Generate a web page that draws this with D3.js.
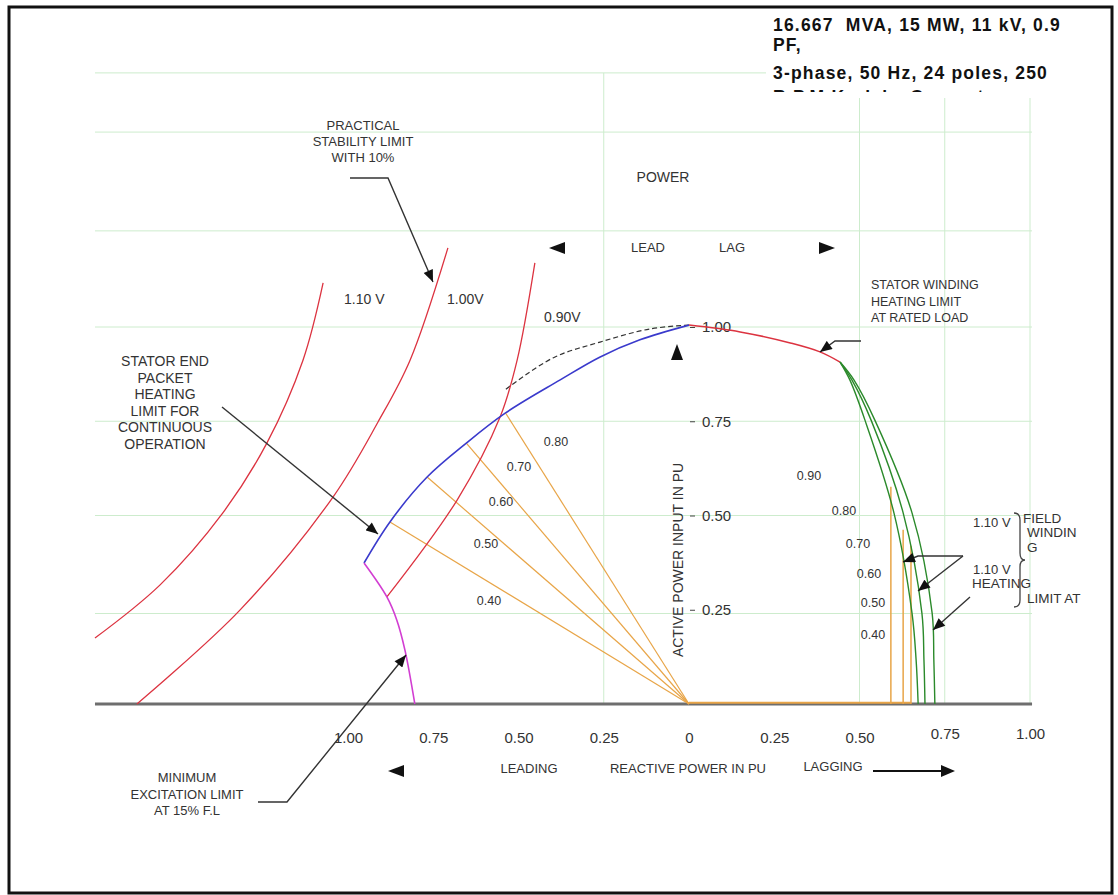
<!DOCTYPE html>
<html>
<head>
<script src="https://d3js.org/d3.v7.min.js"></script>
<style>
  body { margin: 0; background: #fff; }
  text { font-family: "Liberation Sans", Arial, sans-serif; fill: #333; }
</style>
</head>
<body>
<script>
var w = 1118, h = 895;

// axis ticks (reactive power Q, active power P, in pu; Q < 0 is leading)
var qTicks = [-1, -0.75, -0.5, -0.25, 0, 0.25, 0.5, 0.75, 1];
var pTicks = [0.25, 0.5, 0.75, 1];
var gridP = [0.24, 0.5, 0.75, 1, 1.255, 1.517, 1.674];
var gridQ = [-0.25, 0.5, 0.75, 1];

// limit curves, [Q, P]
var statorLimit = [[0, 1.005], [0.15, 0.987], [0.30, 0.957], [0.384, 0.934], [0.443, 0.907]];
var endPacketLimit = [[0, 1.005], [-0.144, 0.966], [-0.262, 0.920], [-0.379, 0.859], [-0.538, 0.772],
                      [-0.653, 0.692], [-0.768, 0.602], [-0.877, 0.483], [-0.953, 0.374]];
var minExcitation = [[-0.953, 0.374], [-0.886, 0.284], [-0.857, 0.223], [-0.833, 0.143], [-0.804, 0]];
var stabilityLimit = [[0, 1.005], [-0.114, 0.995], [-0.261, 0.960], [-0.399, 0.918], [-0.540, 0.833]];
var v110 = [[-1.742, 0.175], [-1.551, 0.316], [-1.367, 0.507], [-1.238, 0.692], [-1.132, 0.912], [-1.073, 1.117]];
var v100 = [[-1.619, 0], [-1.317, 0.249], [-1.044, 0.549], [-0.912, 0.748], [-0.818, 0.912], [-0.707, 1.210]];
var v090 = [[-0.886, 0.284], [-0.680, 0.541], [-0.554, 0.761], [-0.504, 0.912], [-0.452, 1.170]];
var field1 = [[0.443, 0.907], [0.472, 0.859], [0.516, 0.753], [0.601, 0.507], [0.654, 0.241], [0.666, 0.117], [0.672, 0]];
var field2 = [[0.443, 0.907], [0.478, 0.859], [0.534, 0.753], [0.628, 0.507], [0.683, 0.241], [0.689, 0.117], [0.692, 0]];
var field3 = [[0.443, 0.907], [0.484, 0.859], [0.545, 0.753], [0.654, 0.507], [0.713, 0.241], [0.718, 0.117], [0.721, 0]];

// power factor lines
var pfLeadEnds = [[-0.538, 0.772], [-0.653, 0.692], [-0.768, 0.602], [-0.877, 0.483]];
var pfLagTops = [[0.592, 0.576], [0.628, 0.462], [0.651, 0.42]];
var pfLeadLabels = ["0.80", "0.70", "0.60", "0.50", "0.40"];
var pfLagLabels = ["0.90", "0.80", "0.70", "0.60", "0.50", "0.40"];

var titleLines = ["16.667  MVA, 15 MW, 11 kV, 0.9", "PF,", "3-phase, 50 Hz, 24 poles, 250", "R.P.M Kuricky Generator"];

var x = d3.scaleLinear().domain([-1, 1]).range([348, 1030]);
var y = d3.scaleLinear().domain([0, 1]).range([704, 327]);
var qMin = -1.742, qMax = 1.006, pMax = 1.674;

var svg = d3.select('body').append('svg').attr('width', w).attr('height', h);

var defs = svg.append('defs');
defs.append('marker').attr('id', 'head')
    .attr('viewBox', '0 0 12 10').attr('refX', 12).attr('refY', 5)
    .attr('markerWidth', 13).attr('markerHeight', 10)
    .attr('markerUnits', 'userSpaceOnUse').attr('orient', 'auto')
    .append('path').attr('d', 'M0,0 L12,5 L0,10 Z').attr('fill', '#111');
defs.append('clipPath').attr('id', 'titleClip')
    .append('rect').attr('x', 760).attr('y', 0).attr('width', 360).attr('height', 92);
defs.append('clipPath').attr('id', 'ratedClip')
    .append('rect').attr('x', 1000).attr('y', 590).attr('width', 110).attr('height', 25);

// grid
svg.append('g').selectAll('line').data(gridP).join('line')
    .attr('x1', x(qMin)).attr('x2', x(qMax))
    .attr('y1', d => y(d)).attr('y2', d => y(d))
    .attr('stroke', '#cdeccd').attr('stroke-width', 1);
svg.append('g').selectAll('line').data(gridQ).join('line')
    .attr('x1', d => x(d)).attr('x2', d => x(d))
    .attr('y1', y(0)).attr('y2', y(pMax))
    .attr('stroke', '#cdeccd').attr('stroke-width', 1);

// title block covers the top of the grid
svg.append('rect').attr('x', 766).attr('y', 9).attr('width', 344).attr('height', 89).attr('fill', '#fff');
svg.append('g').attr('clip-path', 'url(#titleClip)')
    .selectAll('text').data(titleLines).join('text')
    .attr('x', 773).attr('y', (d, i) => [31, 51, 79, 103][i])
    .attr('font-size', 17.5).attr('font-weight', 'bold').attr('letter-spacing', 1.2)
    .style('white-space', 'pre').style('fill', '#111')
    .text(d => d);

// border
svg.append('rect').attr('x', 9).attr('y', 7).attr('width', 1103).attr('height', 886)
    .attr('fill', 'none').attr('stroke', '#111').attr('stroke-width', 3);

// baseline
var line = d3.line().x(d => x(d[0])).y(d => y(d[1]));
var smooth = d3.line().x(d => x(d[0])).y(d => y(d[1])).curve(d3.curveCatmullRom);

svg.append('path').attr('d', line([[qMin, 0], [qMax, 0]]))
    .attr('stroke', '#6e6e6e').attr('stroke-width', 3).attr('fill', 'none');

// axes
var xAxis = d3.axisBottom(x).tickValues(qTicks).tickSize(0).tickPadding(28)
    .tickFormat(d => d === 0 ? '0' : Math.abs(d).toFixed(2));
var gx = svg.append('g').attr('transform', 'translate(0,' + y(0) + ')').call(xAxis);
gx.select('.domain').remove();
gx.selectAll('text').attr('font-size', 15).attr('font-family', null).style('fill', '#333')
    .attr('transform', d => d >= 0.75 ? 'translate(0,-4)' : null);

var yAxis = d3.axisRight(y).tickValues(pTicks).tickSize(5).tickPadding(7).tickFormat(d3.format('.2f'));
var gy = svg.append('g').attr('transform', 'translate(690,0)').call(yAxis);
gy.select('.domain').remove();
gy.selectAll('line').attr('stroke', '#444');
gy.selectAll('text').attr('font-size', 15).attr('font-family', null).style('fill', '#333');

svg.append('text').attr('transform', 'translate(683,560) rotate(-90)')
    .attr('text-anchor', 'middle').attr('font-size', 14).text('ACTIVE POWER INPUT IN PU');

// power factor lines
var orange = '#e8a548';
svg.append('g').selectAll('path').data(pfLeadEnds).join('path')
    .attr('d', d => line([[0, 0], d]))
    .attr('stroke', orange).attr('stroke-width', 1.2).attr('fill', 'none');
svg.append('g').selectAll('path').data(pfLagTops).join('path')
    .attr('d', d => line([[d[0], 0], d]))
    .attr('stroke', orange).attr('stroke-width', 1.5).attr('fill', 'none');
svg.append('path').attr('d', line([[0, 0.003], [pfLagTops[2][0], 0.003]]))
    .attr('stroke', orange).attr('stroke-width', 2).attr('fill', 'none');

// limit curves
svg.append('path').attr('d', smooth(stabilityLimit))
    .attr('stroke', '#333').attr('stroke-width', 1.2).attr('stroke-dasharray', '5,3').attr('fill', 'none');
[v110, v100, v090].forEach(function (c) {
    svg.append('path').attr('d', smooth(c))
        .attr('stroke', '#dc3340').attr('stroke-width', 1.3).attr('fill', 'none');
});
svg.append('path').attr('d', smooth(statorLimit))
    .attr('stroke', '#dc3340').attr('stroke-width', 1.5).attr('fill', 'none');
svg.append('path').attr('d', smooth(endPacketLimit))
    .attr('stroke', '#3a3acc').attr('stroke-width', 1.6).attr('fill', 'none');
svg.append('path').attr('d', smooth(minExcitation))
    .attr('stroke', '#d23ed2').attr('stroke-width', 1.6).attr('fill', 'none');
[field1, field2, field3].forEach(function (c) {
    svg.append('path').attr('d', smooth(c))
        .attr('stroke', '#2b8a2b').attr('stroke-width', 1.4).attr('fill', 'none');
});

// pf labels
var leadPos = [[556, 446], [519, 471], [501, 506], [486, 548], [489, 605]];
var lagPos = [[809, 480], [844, 515], [858, 548], [869, 578], [873, 607], [873, 639]];
svg.append('g').selectAll('text').data(pfLeadLabels).join('text')
    .attr('x', (d, i) => leadPos[i][0]).attr('y', (d, i) => leadPos[i][1])
    .attr('text-anchor', 'middle').attr('font-size', 12.5).text(d => d);
svg.append('g').selectAll('text').data(pfLagLabels).join('text')
    .attr('x', (d, i) => lagPos[i][0]).attr('y', (d, i) => lagPos[i][1])
    .attr('text-anchor', 'middle').attr('font-size', 12.5).text(d => d);

// annotations
function block(lines, cx, y0, dy, size, anchor) {
    svg.append('g').selectAll('text').data(lines).join('text')
        .attr('x', cx).attr('y', (d, i) => y0 + i * dy)
        .attr('text-anchor', anchor || 'middle').attr('font-size', size).text(d => d);
}
block(['PRACTICAL', 'STABILITY LIMIT', 'WITH 10%'], 363, 130, 16, 13);
block(['POWER'], 663, 182, 0, 14);
block(['LEAD'], 648, 252, 0, 13);
block(['LAG'], 732, 252, 0, 13);
block(['1.10 V'], 344, 304, 0, 14, 'start');
block(['1.00V'], 447, 304, 0, 14, 'start');
block(['0.90V'], 544, 322, 0, 14, 'start');
block(['STATOR WINDING', 'HEATING LIMIT', 'AT RATED LOAD'], 871, 289, 16.5, 12.5, 'start');
block(['STATOR END', 'PACKET', 'HEATING', 'LIMIT FOR', 'CONTINUOUS', 'OPERATION'], 165, 366, 16.6, 14);
block(['MINIMUM', 'EXCITATION LIMIT', 'AT 15% F.L'], 187, 782, 16.5, 13);
block(['LEADING'], 529, 773, 0, 13);
block(['REACTIVE POWER IN PU'], 688, 773, 0, 13);
block(['LAGGING'], 833, 771, 0, 13);
block(['1.10 V'], 973, 527, 0, 13, 'start');
block(['FIELD'], 1023, 523, 0, 13.5, 'start');
block(['WINDIN', 'G'], 1027, 537, 14.5, 13.5, 'start');
block(['1.10 V'], 973, 574, 0, 13, 'start');
block(['HEATING'], 972, 588, 0, 13.5, 'start');
block(['LIMIT AT'], 1027, 603, 0, 13.5, 'start');
svg.append('text').attr('clip-path', 'url(#ratedClip)')
    .attr('x', 1027).attr('y', 624).attr('font-size', 13.5).text('RATED');

var leaders = [
    [[350, 178], [388, 178], [433, 282]],
    [[861, 341], [835, 341], [820, 352]],
    [[222, 407], [378, 534]],
    [[258, 802], [287, 802], [406, 655]],
    [[963, 556], [918, 556], [903, 562]],
    [[963, 556], [918, 591]],
    [[970, 597], [933, 630]]
];
svg.append('g').selectAll('path').data(leaders).join('path')
    .attr('d', d => d3.line()(d))
    .attr('stroke', '#333').attr('stroke-width', 1.4).attr('fill', 'none')
    .attr('marker-end', 'url(#head)');

var tris = [
    'M549,248 L565,242 L565,254 Z',
    'M835,248 L819,242 L819,254 Z',
    'M677,344 L671,360 L683,360 Z',
    'M388,771 L404,765 L404,777 Z',
    'M955,771 L941,765 L941,777 Z'
];
svg.append('g').selectAll('path').data(tris).join('path').attr('d', d => d).attr('fill', '#111');
svg.append('path').attr('d', 'M873,771 L942,771').attr('stroke', '#111').attr('stroke-width', 2);

// brace
svg.append('path')
    .attr('d', 'M1014,513 Q1020,513 1020,520 L1020,553 Q1020,560 1025,560 Q1020,560 1020,567 L1020,600 Q1020,607 1014,607')
    .attr('stroke', '#444').attr('stroke-width', 1.3).attr('fill', 'none');
</script>
</body>
</html>
